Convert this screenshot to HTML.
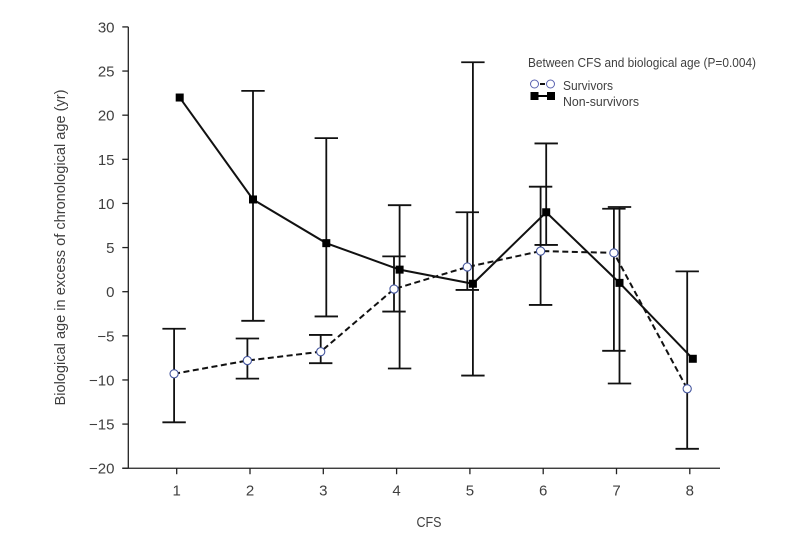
<!DOCTYPE html>
<html lang="en">
<head>
<meta charset="utf-8">
<title>Biological age in excess of chronological age by CFS</title>
<style>
html,body{margin:0;padding:0;background:#fff;width:793px;height:540px;overflow:hidden}
svg{display:block}
text{font-family:"Liberation Sans",sans-serif;fill:#3f3f3f}
</style>
</head>
<body>
<svg id="chart" width="793" height="540" viewBox="0 0 793 540" xmlns="http://www.w3.org/2000/svg">
  <g id="axes"></g>
  <g id="errs"></g>
  <g id="lines"></g>
  <g id="marks"></g>
  <text transform="translate(65,247.5) rotate(-90)" text-anchor="middle" font-size="14.5" textLength="316" lengthAdjust="spacingAndGlyphs">Biological age in excess of chronological age (yr)</text>
  <text x="429" y="527" text-anchor="middle" font-size="15" textLength="25" lengthAdjust="spacingAndGlyphs">CFS</text>
  <g>
    <text x="528" y="67" font-size="13" textLength="228" lengthAdjust="spacingAndGlyphs">Between CFS and biological age (P=0.004)</text>
    <line x1="540" y1="84" x2="545" y2="84" stroke="#111" stroke-width="2"/>
    <circle cx="534.5" cy="84" r="4" fill="#fff" stroke="#5a62b0" stroke-width="1"/>
    <circle cx="550.5" cy="84" r="4" fill="#fff" stroke="#5a62b0" stroke-width="1"/>
    <text x="563" y="90" font-size="13" textLength="50" lengthAdjust="spacingAndGlyphs">Survivors</text>
    <line x1="534" y1="96" x2="551" y2="96" stroke="#000" stroke-width="2"/>
    <rect x="530.5" y="92" width="8" height="8" fill="#000"/>
    <rect x="547" y="92" width="8" height="8" fill="#000"/>
    <text x="563" y="106" font-size="13" textLength="76" lengthAdjust="spacingAndGlyphs">Non-survivors</text>
  </g>
</svg>
<script>
const categories = [1, 2, 3, 4, 5, 6, 7, 8];
const yTickLabels = [30, 25, 20, 15, 10, 5, 0, -5, -10, -15, -20];
const survivorMeans = [-9.3, -7.8, -6.8, 0.3, 2.8, 4.6, 4.4, -11.0];
const survivorHigh = [-4.2, -5.3, -4.9, 4.0, 9.0, 11.9, 9.4, 2.3];
const survivorLow = [-14.8, -9.85, -8.1, -2.25, 0.2, -1.5, -6.7, -17.8];
const nonSurvivorMeans = [22.0, 10.45, 5.5, 2.5, 0.9, 9.0, 1.0, -7.6];
const nonSurvivorHigh = [null, 22.75, 17.4, 9.8, 26.0, 16.8, 9.6, null];
const nonSurvivorLow = [null, -3.3, -2.8, -8.7, -9.5, 5.3, -10.4, null];

const NS = 'http://www.w3.org/2000/svg';
const yScale = v => 291.7 - v * 8.826;
const xScale = c => 176.7 + (c - 1) * 73.3;
const SURV_OFFSET = -2.6;
const NON_OFFSET = 3;
const CAP = 11.7;
const AXIS_X = 128.3;

function make(tag, attrs, parent) {
  const el = document.createElementNS(NS, tag);
  for (const k in attrs) el.setAttribute(k, attrs[k]);
  parent.appendChild(el);
  return el;
}
const axes = document.getElementById('axes');
const errs = document.getElementById('errs');
const lines = document.getElementById('lines');
const marks = document.getElementById('marks');
const axisStyle = {stroke: '#222', 'stroke-width': 1.3, fill: 'none'};

const yAxis = make('line', Object.assign({x1: AXIS_X, y1: yScale(30), x2: AXIS_X, y2: yScale(-20)}, axisStyle), axes);


const xAxis = make('line', Object.assign({x1: AXIS_X - 6, y1: yScale(-20), x2: 720, y2: yScale(-20)}, axisStyle), axes);



yTickLabels.forEach(v => {
  const tick = make('line', Object.assign({x1: AXIS_X - 6, y1: yScale(v), x2: AXIS_X, y2: yScale(v)}, axisStyle), axes);
  
  
  const label = make('text', {x: 114.5, y: yScale(v) + 5.5, 'text-anchor': 'end', 'font-size': 15}, axes);
  label.textContent = v < 0 ? '\u2212' + Math.abs(v) : String(v);
  
  
});
categories.forEach(c => {
  const tick = make('line', Object.assign({x1: xScale(c), y1: yScale(-20), x2: xScale(c), y2: yScale(-20) + 6}, axisStyle), axes);
  
  
  const label = make('text', {x: xScale(c), y: 495.5, 'text-anchor': 'middle', 'font-size': 15}, axes);
  label.textContent = String(c);
  
  
});

function drawErrors(high, low, offset, width) {
  categories.forEach((c, i) => {
    if (high[i] === null || low[i] === null) return;
    const x = xScale(c) + offset;
    const yh = yScale(high[i]);
    const yl = yScale(low[i]);
    const p = make('path', {
      d: 'M' + (x - CAP) + ' ' + yh + 'H' + (x + CAP) + 'M' + x + ' ' + yh + 'V' + yl + 'M' + (x - CAP) + ' ' + yl + 'H' + (x + CAP),
      stroke: '#111', 'stroke-width': width, fill: 'none'
    }, errs);
    
    
  });
}
drawErrors(survivorHigh, survivorLow, SURV_OFFSET, 1.8);
drawErrors(nonSurvivorHigh, nonSurvivorLow, NON_OFFSET, 1.8);

function linePoints(values, offset) {
  return values.map((v, i) => (xScale(categories[i]) + offset) + ',' + yScale(v)).join(' ');
}
const survLine = make('polyline', {points: linePoints(survivorMeans, SURV_OFFSET), fill: 'none', stroke: '#111', 'stroke-width': 2, 'stroke-dasharray': '6 3.5'}, lines);


const nonLine = make('polyline', {points: linePoints(nonSurvivorMeans, NON_OFFSET), fill: 'none', stroke: '#111', 'stroke-width': 2}, lines);



nonSurvivorMeans.forEach((v, i) => {
  const x = xScale(categories[i]) + NON_OFFSET;
  const r = make('rect', {x: x - 4, y: yScale(v) - 4, width: 8, height: 8, fill: '#000'}, marks);
  
  
});
survivorMeans.forEach((v, i) => {
  const x = xScale(categories[i]) + SURV_OFFSET;
  const m = make('circle', {cx: x, cy: yScale(v), r: 4.1, fill: '#fff', stroke: '#46579f', 'stroke-width': 1.1}, marks);
  
  
});
</script>
</body>
</html>
